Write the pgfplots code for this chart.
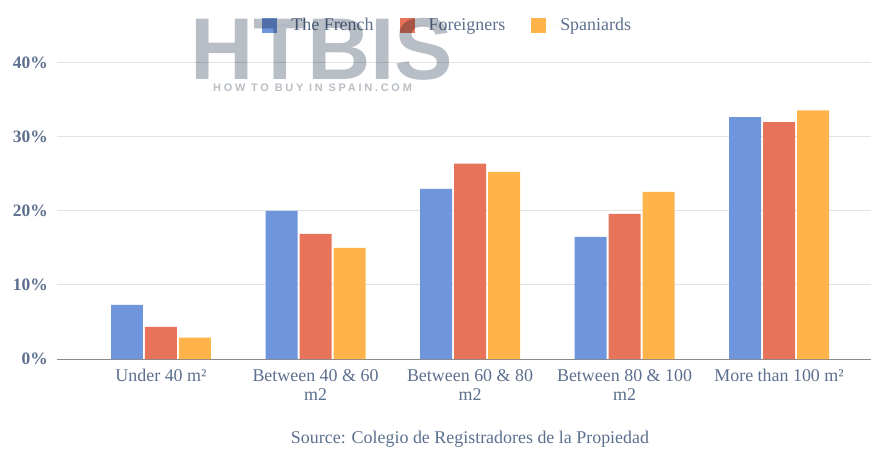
\documentclass[border=0pt]{standalone}
\usepackage{pgfplots}
\pgfplotsset{compat=1.18}
\usepackage{fontspec}
\setmainfont{Liberation Serif}
\newfontfamily\wmfont{Liberation Sans}
\newfontfamily\wmspaced[LetterSpace=25]{Liberation Sans}
\definecolor{cblue}{HTML}{6F96DC}
\definecolor{cred}{HTML}{E6735A}
\definecolor{cyel}{HTML}{FFB34B}
\definecolor{ctext}{HTML}{5C6F8E}
\definecolor{cgrid}{HTML}{E3E3E3}
\definecolor{caxis}{HTML}{8A8A8A}
\definecolor{cwm}{HTML}{B8BEC5}
\begin{document}
\begin{tikzpicture}
\useasboundingbox (0,0) rectangle (871bp,452bp);
\begin{axis}[
  at={(57bp,93bp)}, anchor=south west,
  scale only axis, width=814bp, height=296bp,
  ybar, bar width=0.207,
  xmin=-0.673, xmax=4.595,
  ymin=0, ymax=40,
  xtick={0,1,2,3,4},
  xticklabels={{Under 40 m²},{Between 40 \& 60\\m2},{Between 60 \& 80\\m2},{Between 80 \& 100\\m2},{More than 100 m²}},
  xticklabel style={align=center, font=\fontsize{18}{19}\selectfont, text=ctext, inner sep=0pt, yshift=-10bp},
  ytick={0,10,20,30,40},
  yticklabel={\pgfmathprintnumber{\tick}\%},
  yticklabel style={font=\bfseries\fontsize{17.5}{19}\selectfont, text=ctext, inner sep=0pt, xshift=-9bp},
  /pgf/number format/assume math mode=true,
  major tick length=0pt,
  ymajorgrids, grid style={cgrid, line width=1bp},
  axis x line*=bottom, axis y line*=left,
  y axis line style={draw=none},
  x axis line style={caxis, line width=1bp, -},
  legend style={at={(0.48,1.128)}, anchor=center, draw=none, fill=none,
    legend columns=3, font=\fontsize{18}{19}\selectfont, text=ctext,
    /tikz/every even column/.append style={column sep=24bp}},
  legend image code/.code={\fill[#1] (0bp,-7.5bp) rectangle (15bp,7.5bp); \path (0bp,0bp) -- (27bp,0bp);},
  clip=false,
]
\addplot[fill=cblue, draw=none, bar shift=-0.22] coordinates {(0,7.3) (1,20.0) (2,23.0) (3,16.5) (4,32.7)};
\addplot[fill=cred, draw=none, bar shift=0] coordinates {(0,4.35) (1,16.9) (2,26.4) (3,19.6) (4,32.0)};
\addplot[fill=cyel, draw=none, bar shift=0.22] coordinates {(0,2.9) (1,15.0) (2,25.3) (3,22.6) (4,33.6)};
\legend{The French, Foreigners, Spaniards}
\end{axis}
\node[anchor=base, text=ctext, font=\fontsize{18}{19}\selectfont] at (470bp,9bp) {Source: Colegio de Registradores de la Propiedad};
\begin{scope}[blend mode=multiply]
\node[anchor=base west, inner sep=0, text=cwm, font=\wmfont\bfseries\fontsize{88}{90}\selectfont] at (190bp,372bp) {HTBIS};
\node[anchor=base west, inner sep=0, text=cwm, font=\wmspaced\bfseries\fontsize{11}{12}\selectfont] at (213bp,360bp) {HOW TO BUY IN SPAIN.COM};
\end{scope}
\end{tikzpicture}
\end{document}
